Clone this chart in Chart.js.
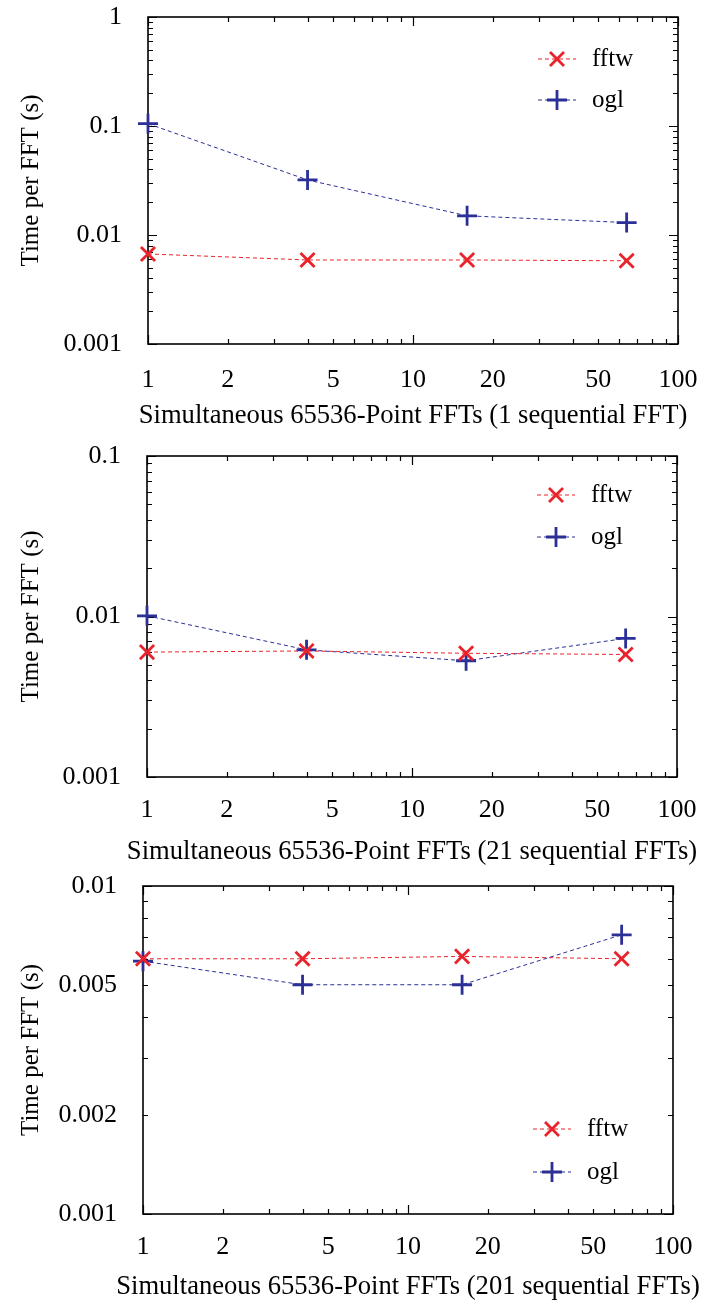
<!DOCTYPE html>
<html>
<head>
<meta charset="utf-8">
<script src="https://cdn.jsdelivr.net/npm/chart.js@4/dist/chart.umd.min.js"></script>
<style>
    html, body { margin: 0; padding: 0; background: #fff; }
    #wrap { position: relative; width: 701px; height: 1305px; }
    .panel { position: absolute; left: 0; width: 701px; }
</style>
</head>
<body>
<div id="wrap">
    <div class="panel" style="top:0;height:436px"><canvas id="fft1"></canvas></div>
    <div class="panel" style="top:436px;height:432px"><canvas id="fft21"></canvas></div>
    <div class="panel" style="top:868px;height:437px"><canvas id="fft201"></canvas></div>
</div>
<script>

// number of simultaneous 65536-point FFTs (x values)
var simultaneous = [1, 4, 16, 64];

// time per FFT in seconds
var fftw1 = [0.0067, 0.0059, 0.0059, 0.0058];
var ogl1 = [0.105, 0.032, 0.015, 0.013];

var fftw21 = [0.0060, 0.0061, 0.0059, 0.0058];
var ogl21 = [0.0101, 0.0062, 0.0053, 0.0073];

var fftw201 = [0.0060, 0.0060, 0.0061, 0.0060];
var ogl201 = [0.0059, 0.0050, 0.0050, 0.0071];

var xTickLabels = [1, 2, 5, 10, 20, 50, 100];
var yTickLabels1 = [0.001, 0.01, 0.1, 1];
var yTickLabels21 = [0.001, 0.01, 0.1];
var yTickLabels201 = [0.001, 0.002, 0.005, 0.01];

var seriesNames = ['fftw', 'ogl'];
var seriesColors = ['#e8232b', '#2b2f96'];

var FONT = "'Liberation Serif', 'DejaVu Serif', serif";

// 1..9 x 10^n ticks between min and max, gnuplot style
var logTicks = function (min, max) {
    var out = [];
    for (var e = Math.floor(Math.log10(min)); e <= Math.ceil(Math.log10(max)); e++) {
        for (var k = 1; k < 10; k++) {
            var v = Number((k * Math.pow(10, e)).toPrecision(3));
            if (v >= min * 0.999 && v <= max * 1.001) {
                out.push({ value: v });
            }
        }
    }
    return out;
};

var isDecade = function (v) {
    var l = Math.log10(v);
    return Math.abs(l - Math.round(l)) < 1e-6;
};

var labelFor = function (labels) {
    return function (value) {
        for (var i = 0; i < labels.length; i++) {
            if (Math.abs(value / labels[i] - 1) < 1e-6) {
                return String(labels[i]);
            }
        }
        return '';
    };
};

// box round the plot with inward ticks on all four sides
var frameTicks = {
    id: 'frameTicks',
    beforeDatasetsDraw: function (chart) {
        var ctx = chart.ctx, a = chart.chartArea;
        var xs = chart.scales.x, ys = chart.scales.y;
        ctx.save();
        ctx.strokeStyle = '#000';
        ctx.lineWidth = 1.2;
        ctx.beginPath();
        xs.ticks.forEach(function (t) {
            var px = Math.round(xs.getPixelForValue(t.value)) + 0.5;
            var len = isDecade(t.value) ? 9 : 5;
            ctx.moveTo(px, a.bottom); ctx.lineTo(px, a.bottom - len);
            ctx.moveTo(px, a.top); ctx.lineTo(px, a.top + len);
        });
        ys.ticks.forEach(function (t) {
            var py = Math.round(ys.getPixelForValue(t.value)) + 0.5;
            var len = isDecade(t.value) ? 9 : 5;
            ctx.moveTo(a.left, py); ctx.lineTo(a.left + len, py);
            ctx.moveTo(a.right, py); ctx.lineTo(a.right - len, py);
        });
        ctx.stroke();
        ctx.lineWidth = 1.6;
        ctx.strokeRect(a.left, a.top, a.right - a.left, a.bottom - a.top);
        ctx.restore();
    }
};

// x axis caption; drawn here so it is not squeezed to the plot width
var xCaption = {
    id: 'xCaption',
    afterDraw: function (chart, args, opts) {
        var ctx = chart.ctx, a = chart.chartArea;
        ctx.save();
        ctx.fillStyle = '#000';
        ctx.font = '26.6px ' + FONT;
        ctx.textAlign = 'center';
        ctx.textBaseline = 'middle';
        ctx.fillText(opts.text, (a.left + a.right) / 2, chart.height - opts.fromBottom);
        ctx.restore();
    }
};

var drawMarker = function (ctx, style, x, y, r) {
    ctx.beginPath();
    if (style === 'crossRot') {
        ctx.moveTo(x - r, y - r); ctx.lineTo(x + r, y + r);
        ctx.moveTo(x - r, y + r); ctx.lineTo(x + r, y - r);
    } else {
        ctx.moveTo(x - r, y); ctx.lineTo(x + r, y);
        ctx.moveTo(x, y - r); ctx.lineTo(x, y + r);
    }
    ctx.stroke();
};

// gnuplot-like key drawn inside the plot area
var insideLegend = {
    id: 'insideLegend',
    afterDatasetsDraw: function (chart, args, opts) {
        var ctx = chart.ctx, a = chart.chartArea;
        var mx = a.right - opts.fromRight;
        ctx.save();
        chart.data.datasets.forEach(function (ds, i) {
            var y = opts.anchor === 'top' ? a.top + opts.rows[i] : a.bottom - opts.rows[i];
            ctx.strokeStyle = ds.borderColor;
            ctx.lineWidth = 1;
            ctx.setLineDash([4, 3]);
            ctx.beginPath();
            ctx.moveTo(mx - 19, y); ctx.lineTo(mx + 19, y);
            ctx.stroke();
            ctx.setLineDash([]);
            ctx.lineWidth = 2.8;
            drawMarker(ctx, ds.pointStyle, mx, y, ds.pointStyle === 'crossRot' ? 7 : 10);
            ctx.fillStyle = '#000';
            ctx.font = '25px ' + FONT;
            ctx.textBaseline = 'middle';
            ctx.textAlign = 'left';
            ctx.fillText(ds.label, mx + 35, y);
        });
        ctx.restore();
    }
};

var makeSeries = function (label, values, color, style) {
    return {
        label: label,
        data: simultaneous.map(function (x, i) { return { x: x, y: values[i] }; }),
        borderColor: color,
        backgroundColor: color,
        borderWidth: 1,
        borderDash: [4, 3],
        pointStyle: style,
        pointRadius: 10,
        pointBorderWidth: 2.8,
        pointHoverRadius: 10,
        clip: false
    };
};

var initFftChart = function (canvasId, opt) {
    var config = {
        type: 'line',
        data: {
            datasets: [
                makeSeries(seriesNames[0], opt.fftw, seriesColors[0], 'crossRot'),
                makeSeries(seriesNames[1], opt.ogl, seriesColors[1], 'cross')
            ]
        },
        options: {
            responsive: true,
            maintainAspectRatio: false,
            animation: false,
            layout: {
                padding: { top: opt.top, right: opt.right, left: 0, bottom: 0 }
            },
            plugins: {
                legend: { display: false },
                tooltip: { enabled: false },
                insideLegend: opt.legend,
                xCaption: { text: opt.xTitle, fromBottom: opt.xTitleFromBottom }
            },
            scales: {
                x: {
                    type: 'logarithmic',
                    min: 1,
                    max: 100,
                    grid: { display: false },
                    border: { display: false },
                    afterBuildTicks: function (scale) {
                        scale.ticks = logTicks(1, 100);
                    },
                    afterFit: function (scale) {
                        scale.height = opt.xAxisHeight;
                        scale.paddingLeft = 0;
                        scale.paddingRight = 0;
                    },
                    ticks: {
                        autoSkip: false,
                        maxRotation: 0,
                        padding: opt.xTickPad,
                        color: '#000',
                        font: { family: FONT, size: 26 },
                        callback: labelFor(xTickLabels)
                    }
                },
                y: {
                    type: 'logarithmic',
                    min: opt.yMin,
                    max: opt.yMax,
                    grid: { display: false },
                    border: { display: false },
                    afterBuildTicks: function (scale) {
                        scale.ticks = logTicks(opt.yMin, opt.yMax);
                    },
                    afterFit: function (scale) {
                        scale.width = opt.yAxisWidth;
                        scale.paddingTop = 0;
                        scale.paddingBottom = 0;
                    },
                    ticks: {
                        autoSkip: false,
                        padding: 18,
                        color: '#000',
                        font: { family: FONT, size: 26 },
                        callback: labelFor(opt.yLabels)
                    },
                    title: {
                        display: true,
                        text: 'Time per FFT (s)',
                        color: '#000',
                        font: { family: FONT, size: 25 },
                        padding: { top: 16, bottom: 0 }
                    }
                }
            }
        },
        plugins: [frameTicks, insideLegend, xCaption]
    };

    var ctx = document.getElementById(canvasId).getContext('2d');
    return new Chart(ctx, config);
};

initFftChart('fft1', {
    fftw: fftw1, ogl: ogl1,
    yMin: 0.001, yMax: 1, yLabels: yTickLabels1,
    top: 17, right: 23, yAxisWidth: 148, xAxisHeight: 92, xTickPad: 13, xTitleFromBottom: 20,
    xTitle: 'Simultaneous 65536-Point FFTs (1 sequential FFT)',
    legend: { anchor: 'top', fromRight: 121, rows: [42, 83] }
});

initFftChart('fft21', {
    fftw: fftw21, ogl: ogl21,
    yMin: 0.001, yMax: 0.1, yLabels: yTickLabels21,
    top: 20, right: 24, yAxisWidth: 147, xAxisHeight: 91, xTickPad: 10, xTitleFromBottom: 16,
    xTitle: 'Simultaneous 65536-Point FFTs (21 sequential FFTs)',
    legend: { anchor: 'top', fromRight: 121, rows: [39, 81] }
});

initFftChart('fft201', {
    fftw: fftw201, ogl: ogl201,
    yMin: 0.001, yMax: 0.01, yLabels: yTickLabels201,
    top: 18, right: 28, yAxisWidth: 143, xAxisHeight: 91, xTickPad: 10, xTitleFromBottom: 18,
    xTitle: 'Simultaneous 65536-Point FFTs (201 sequential FFTs)',
    legend: { anchor: 'bottom', fromRight: 121, rows: [85, 42] }
});
</script>
</body>
</html>
